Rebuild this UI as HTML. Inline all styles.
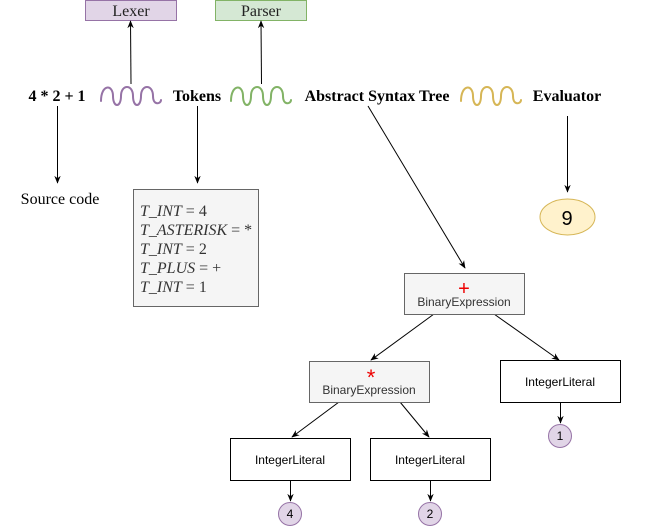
<!DOCTYPE html>
<html><head><style>body{margin:0;background:#fff}svg{display:block}</style></head><body>
<svg width="655" height="527" viewBox="0 0 655 527" xmlns="http://www.w3.org/2000/svg">
<defs><marker id="a" viewBox="0 0 10 10" refX="9" refY="5" markerWidth="8" markerHeight="8" orient="auto"><path d="M0,1 L10,5 L0,9 L3,5z" fill="#000"/></marker></defs>
<g font-family="Liberation Serif, serif" font-size="16">
<rect x="85.5" y="0.5" width="91" height="20" fill="#e1d5e7" stroke="#9673a6"/>
<text x="131" y="16" text-anchor="middle" fill="#222">Lexer</text>
<rect x="215.5" y="0.5" width="91" height="20" fill="#d5e8d4" stroke="#82b366"/>
<text x="261" y="16" text-anchor="middle" fill="#222">Parser</text>
<g font-weight="bold" fill="#000">
<text x="57" y="101" text-anchor="middle">4 * 2 + 1</text>
<text x="197" y="101" text-anchor="middle">Tokens</text>
<text x="377" y="101" text-anchor="middle">Abstract Syntax Tree</text>
<text x="567" y="101" text-anchor="middle">Evaluator</text>
</g>
<text x="60" y="204" text-anchor="middle">Source code</text>
</g>
<g fill="none" stroke-width="2" stroke-linecap="round">
<path d="M101,101 C101,84 113,84 113,96 C113,108 121,108 121,96 C121,84 133,84 133,96 C133,108 141,108 141,96 C141,84 153,84 153,96 C153,106 161,104 161,100" stroke="#9673a6"/>
<path d="M231,101 C231,84 243,84 243,96 C243,108 251,108 251,96 C251,84 263,84 263,96 C263,108 271,108 271,96 C271,84 283,84 283,96 C283,106 291,104 291,100" stroke="#82b366"/>
<path d="M461,101 C461,84 473,84 473,96 C473,108 481,108 481,96 C481,84 493,84 493,96 C493,108 501,108 501,96 C501,84 513,84 513,96 C513,106 521,104 521,100" stroke="#d6b656"/>
</g>
<g stroke="#000" stroke-width="1" fill="none" marker-end="url(#a)">
<line x1="131" y1="84" x2="130.5" y2="21"/>
<line x1="261.5" y1="84" x2="261" y2="21"/>
<line x1="57.5" y1="106" x2="57.5" y2="183"/>
<line x1="197.5" y1="106" x2="197.5" y2="183"/>
<line x1="567.5" y1="116" x2="567.5" y2="192"/>
<line x1="368" y1="106" x2="465" y2="268"/>
<line x1="434" y1="314" x2="371" y2="360"/>
<line x1="494" y1="314" x2="559" y2="360"/>
<line x1="339" y1="402" x2="292" y2="437"/>
<line x1="400" y1="402" x2="429" y2="437"/>
<line x1="560.5" y1="402" x2="560.5" y2="423"/>
<line x1="290.5" y1="480" x2="290.5" y2="501"/>
<line x1="430.5" y1="480" x2="430.5" y2="501"/>
</g>
<rect x="133.5" y="189.5" width="125" height="117" fill="#f5f5f5" stroke="#666"/>
<g font-family="Liberation Serif, serif" font-size="16" fill="#333">
<text x="140" y="216"><tspan font-style="italic">T_INT</tspan> = 4</text>
<text x="140" y="235"><tspan font-style="italic">T_ASTERISK</tspan> = *</text>
<text x="140" y="254"><tspan font-style="italic">T_INT</tspan> = 2</text>
<text x="140" y="273"><tspan font-style="italic">T_PLUS</tspan> = +</text>
<text x="140" y="292"><tspan font-style="italic">T_INT</tspan> = 1</text>
</g>
<ellipse cx="567.5" cy="217" rx="27.5" ry="18" fill="#fff2cc" stroke="#d6b656"/>
<text x="567" y="225" text-anchor="middle" font-family="Liberation Sans, sans-serif" font-size="20">9</text>
<g font-family="Liberation Sans, sans-serif" font-size="12" text-anchor="middle">
<rect x="404.5" y="273.5" width="120" height="41" fill="#f5f5f5" stroke="#666"/>
<text x="464" y="295" fill="#e00" font-size="20">+</text>
<text x="464" y="306" fill="#333">BinaryExpression</text>
<rect x="309.5" y="361.5" width="120" height="41" fill="#f5f5f5" stroke="#666"/>
<text x="371" y="385" fill="#e00" font-size="22">*</text>
<text x="369" y="394" fill="#333">BinaryExpression</text>
<rect x="500.5" y="360.5" width="120" height="42" fill="#fff" stroke="#000"/>
<text x="560" y="386" fill="#000">IntegerLiteral</text>
<rect x="230.5" y="438.5" width="120" height="42" fill="#fff" stroke="#000"/>
<text x="290" y="464" fill="#000">IntegerLiteral</text>
<rect x="370.5" y="438.5" width="120" height="42" fill="#fff" stroke="#000"/>
<text x="430" y="464" fill="#000">IntegerLiteral</text>
<circle cx="560" cy="436" r="11.5" fill="#e1d5e7" stroke="#9673a6"/>
<text x="560" y="440" fill="#000">1</text>
<circle cx="290" cy="514" r="11.5" fill="#e1d5e7" stroke="#9673a6"/>
<text x="290" y="518" fill="#000">4</text>
<circle cx="430" cy="514" r="11.5" fill="#e1d5e7" stroke="#9673a6"/>
<text x="430" y="518" fill="#000">2</text>
</g>
</svg>
</body></html>
